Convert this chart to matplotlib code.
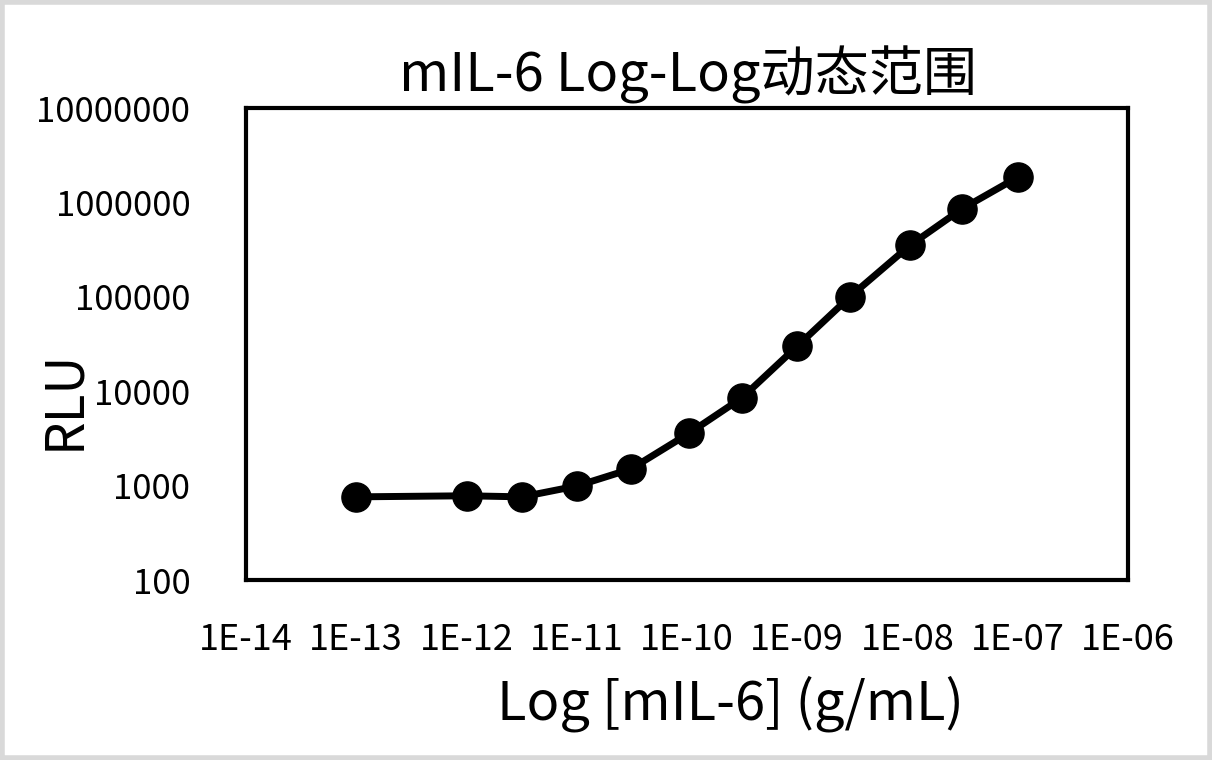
import matplotlib
matplotlib.use("Agg")
import matplotlib.pyplot as plt
from matplotlib.ticker import FixedLocator, NullLocator, FixedFormatter

plt.rcParams['font.family'] = ['Noto Sans CJK SC', 'DejaVu Sans']

conc = [1e-13, 1e-12, 3.2e-12, 1e-11, 3.1e-11, 1.05e-10, 3.15e-10, 1e-9, 3e-9, 1.05e-8, 3.1e-8, 1e-7]
rlu = [760, 780, 760, 990, 1500, 3600, 8500, 30000, 100000, 350000, 850000, 1850000]

x_ticks = [1e-14, 1e-13, 1e-12, 1e-11, 1e-10, 1e-9, 1e-8, 1e-7, 1e-6]
x_labels = ["1E-14", "1E-13", "1E-12", "1E-11", "1E-10", "1E-09", "1E-08", "1E-07", "1E-06"]
y_ticks = [100, 1000, 10000, 100000, 1000000, 10000000]
y_labels = ["100", "1000", "10000", "100000", "1000000", "10000000"]

title = "mIL-6 Log-Log动态范围"
xlabel = "Log [mIL-6] (g/mL)"
ylabel = "RLU"

W, H = 1212, 760
fig = plt.figure(figsize=(W/100, H/100), dpi=100)
ax = fig.add_axes([246/W, 1 - 580/H, (1128-246)/W, (580-108)/H])

ax.plot(conc, rlu, color='black', lw=5, marker='o', ms=21, mfc='black', mec='black',
        solid_capstyle='round', solid_joinstyle='round')

ax.set_xscale('log')
ax.set_yscale('log')
ax.set_xlim(1e-14, 1e-6)
ax.set_ylim(100, 1e7)
ax.xaxis.set_major_locator(FixedLocator(x_ticks))
ax.xaxis.set_major_formatter(FixedFormatter(x_labels))
ax.xaxis.set_minor_locator(NullLocator())
ax.yaxis.set_major_locator(FixedLocator(y_ticks))
ax.yaxis.set_major_formatter(FixedFormatter(y_labels))
ax.yaxis.set_minor_locator(NullLocator())
ax.tick_params(axis='x', length=0, labelsize=26, colors='black', pad=30)
ax.tick_params(axis='y', length=0, labelsize=25, colors='black', pad=40)
for s in ax.spines.values():
    s.set_linewidth(3)
    s.set_color('black')

fig.text(688/W, 1 - 92/H, title, fontsize=39, ha='center', va='baseline')
fig.text(730/W, 1 - 720/H, xlabel, fontsize=39, ha='center', va='baseline')
fig.text(64/W, 1 - 400/H, ylabel, fontsize=38, ha='center', va='center', rotation=90)

# outer border
fig.patches.append(plt.Rectangle((0.002, 0.003), 0.996, 0.994, transform=fig.transFigure,
                                 fill=False, edgecolor='#d9d9d9', lw=4))

fig.savefig("out.png", dpi=100)
